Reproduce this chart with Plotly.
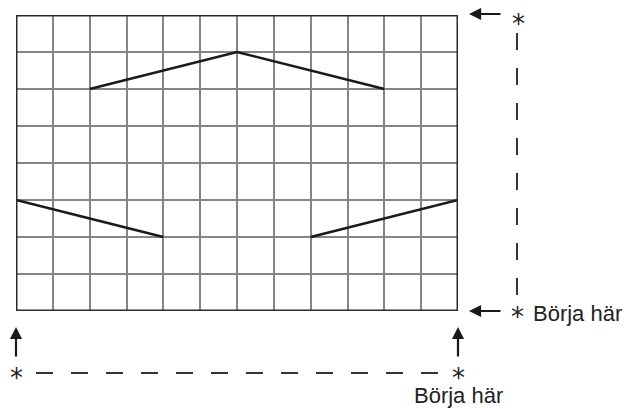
import plotly.graph_objects as go

# grid size (columns, rows)
n_cols = 12
n_rows = 8

# pattern line segments (grid units, rows counted from bottom)
top_x = [2, 6, 10]
top_y = [6, 7, 6]
left_x = [0, 4]
left_y = [3, 2]
right_x = [8, 12]
right_y = [2, 3]

label_text = "Börja här"

# page geometry (browser body has an 8px margin)
OFF = 8
W, H = 634 - OFF, 409 - OFF
L, R, T, B = 16 - OFF, 458 - OFF, 15 - OFF, 311 - OFF
pw, ph = R - L, B - T

def px(x):
    return (x - OFF - L) / pw

def py(y):
    return (B - (y - OFF)) / ph

fig = go.Figure()

line_style = dict(color="#1a1a1a", width=2.6)
for xs, ys in [(top_x, top_y), (left_x, left_y), (right_x, right_y)]:
    fig.add_trace(go.Scatter(x=xs, y=ys, mode="lines", line=line_style,
                             hoverinfo="skip", showlegend=False, cliponaxis=False))

shapes = []
shapes.append(dict(type="rect", xref="x", yref="y", x0=0, x1=n_cols, y0=0, y1=n_rows,
                   line=dict(color="#2b2b2b", width=3), layer="above"))
shapes.append(dict(type="line", xref="paper", yref="paper", x0=px(517), x1=px(517),
                   y0=py(33), y1=py(300),
                   line=dict(color="#333", width=2, dash="17px,18px")))
shapes.append(dict(type="line", xref="paper", yref="paper", x0=px(36), x1=px(447),
                   y0=py(373), y1=py(373),
                   line=dict(color="#333", width=2, dash="17px,18px")))

ann = []
for yy in [14, 311]:
    ann.append(dict(xref="paper", yref="paper", x=px(469), y=py(yy), ax=33, ay=0,
                    text="", showarrow=True, arrowhead=2, arrowsize=1.1,
                    arrowwidth=2.2, arrowcolor="#1a1a1a"))
for xx in [16, 458]:
    ann.append(dict(xref="paper", yref="paper", x=px(xx), y=py(327), ax=0, ay=31,
                    text="", showarrow=True, arrowhead=2, arrowsize=1.1,
                    arrowwidth=2.2, arrowcolor="#1a1a1a"))
star_font = dict(family="DejaVu Sans, sans-serif", size=26, color="#222")
# top-right star anchored at its top so it stays inside the figure
ann.append(dict(xref="paper", yref="paper", x=px(518), y=py(OFF), text="*",
                showarrow=False, font=star_font, xanchor="center", yanchor="top",
                borderpad=0))
for (xx, yy) in [(517, 317), (16, 378), (458, 378)]:
    ann.append(dict(xref="paper", yref="paper", x=px(xx), y=py(yy), text="*",
                    showarrow=False, font=star_font,
                    xanchor="center", yanchor="middle", borderpad=0))
label_font = dict(family="Liberation Sans Narrow, Liberation Sans, sans-serif",
                  size=22, color="#222")
ann.append(dict(xref="paper", yref="paper", x=px(531), y=py(313), text=label_text,
                showarrow=False, xanchor="left", yanchor="middle", font=label_font))
ann.append(dict(xref="paper", yref="paper", x=px(458), y=py(409), text=label_text,
                showarrow=False, xanchor="center", yanchor="bottom", font=label_font,
                borderpad=0))

axis_common = dict(showgrid=True, gridcolor="#858585", gridwidth=1.6, dtick=1,
                   zeroline=False, showticklabels=False, ticks="", showline=False,
                   fixedrange=True)
fig.update_layout(
    width=W, height=H,
    margin=dict(l=L, r=W - R, t=T, b=H - B),
    paper_bgcolor="white", plot_bgcolor="white",
    xaxis=dict(range=[0, n_cols], tick0=0, **axis_common),
    yaxis=dict(range=[0, n_rows], tick0=0, **axis_common),
    shapes=shapes, annotations=ann, showlegend=False,
)

fig.write_html("out.html")
